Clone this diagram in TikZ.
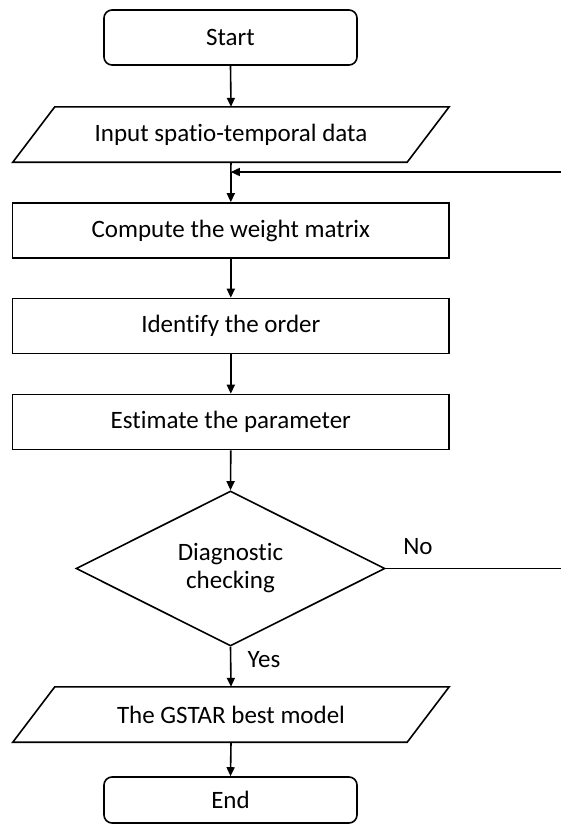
\documentclass[tikz,border=0pt]{standalone}
\usepackage{fontspec}
\setmainfont{Carlito}[Ligatures={NoCommon}]
\usetikzlibrary{shapes.geometric,arrows.meta}
\begin{document}
\begin{tikzpicture}[x=1pt,y=-1pt,
  every node/.style={font=\fontsize{25}{28}\selectfont},
  line/.style={line width=1.6pt},
  arr/.style={line width=1.6pt,-{Triangle[length=9pt,width=8pt]}},
  term/.style={draw,line width=1.6pt,rounded corners=8pt,minimum width=253pt,inner sep=0pt},
  proc/.style={draw,line width=1.6pt,minimum width=436.5pt,minimum height=55pt,inner sep=0pt},
  iobox/.style={minimum width=394pt,minimum height=55pt,inner sep=0pt},
  decision/.style={draw,line width=1.6pt,diamond,shape aspect=2,minimum width=309pt,minimum height=155pt,inner sep=0pt,align=center}]
\useasboundingbox (0,0) rectangle (560,825);
\node[term,minimum height=55pt] (start) at (230.5,37.5) {Start};
\node[iobox] (input) at (231,134.5) {Input spatio-temporal data};
\draw[line,line join=miter] ([xshift=21pt]input.north west) -- ([xshift=21pt]input.north east) -- ([xshift=-21pt]input.south east) -- ([xshift=-21pt]input.south west) -- cycle;
\node[proc] (compute) at (230.8,230.5) {Compute the weight matrix};
\node[proc] (identify) at (230.8,326) {Identify the order};
\node[proc] (estimate) at (230.8,422) {Estimate the parameter};
\node[decision] (diag) at (230.5,568.5) {Diagnostic\\checking};
\node[iobox] (gstar) at (231,714.5) {The GSTAR best model};
\draw[line,line join=miter] ([xshift=21pt]gstar.north west) -- ([xshift=21pt]gstar.north east) -- ([xshift=-21pt]gstar.south east) -- ([xshift=-21pt]gstar.south west) -- cycle;
\node[term,minimum height=46pt] (end) at (230.5,800) {End};
\node (no) at (418,547) {No};
\node (yes) at (264,660) {Yes};
\coordinate (join) at (230.8,172);
\coordinate (fbtop) at (563,172);
\coordinate (fbbot) at (563,568.5);
\draw[arr] (start.south) -- (input.north);
\draw[line] (input.south) -- (join);
\draw[arr] (join) -- (compute.north);
\draw[arr] (compute.south) -- (identify.north);
\draw[arr] (identify.south) -- (estimate.north);
\draw[arr] (estimate.south) -- (diag.north);
\draw[arr] (diag.south) -- (gstar.north);
\draw[arr] (gstar.south) -- (end.north);
\draw[arr] (diag.east) -- (fbbot) -- (fbtop) -- (join);
\end{tikzpicture}
\end{document}
